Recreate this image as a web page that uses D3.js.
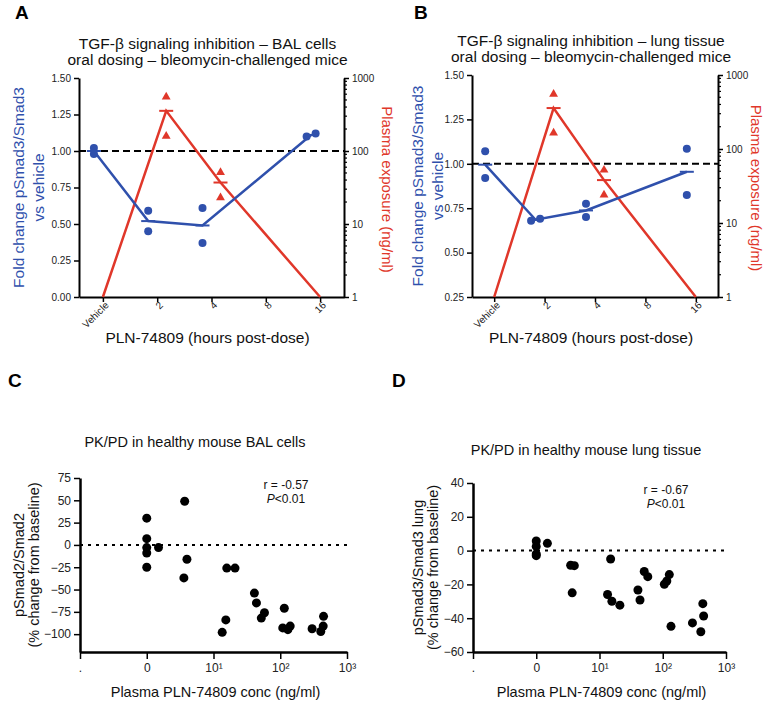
<!DOCTYPE html>
<html>
<head>
<meta charset="utf-8">
<script src="https://cdn.jsdelivr.net/npm/d3@7"></script>
<style>
body { margin: 0; background: #fff; }
text { font-family: "Liberation Sans", Arial, sans-serif; }
</style>
</head>
<body>
<svg id="fig" width="768" height="702"></svg>
<script>
// Time-course categories (panels A and B)
const timeLabels = ["Vehicle", "2", "4", "8", "16"];

// Panel A - BAL cells
const balHours = ["Vehicle", "Vehicle", "2", "2", "4", "4", "16", "16"];
const balFold = [1.02, 0.98, 0.59, 0.45, 0.61, 0.37, 1.10, 1.12];
const balPlasmaHours = ["Vehicle", "2", "2", "4", "4", "16"];
const balPlasma = [1, 550, 160, 51, 23, 1];

// Panel B - lung tissue
const lungHours = ["Vehicle", "Vehicle", "2", "2", "4", "4", "16", "16"];
const lungFold = [1.07, 0.92, 0.68, 0.69, 0.775, 0.70, 0.825, 1.085];
const lungPlasmaHours = ["Vehicle", "2", "2", "4", "4", "16"];
const lungPlasma = [1, 550, 165, 52, 24, 1];

const foldTicksA = [0, 0.25, 0.5, 0.75, 1, 1.25, 1.5];
const foldTicksB = [0.25, 0.5, 0.75, 1, 1.25, 1.5];
const plasmaTicks = [1, 10, 100, 1000];

// Panel C - PK/PD BAL cells
const concC = [1, 1, 1, 1, 1, 1.5, 3.7, 4, 3.6, 15.8, 21, 15.3, 13.5, 41, 44, 58, 52, 115, 109, 130, 141, 300, 445, 440, 405];
const pctC = [30, 7, -3, -9, -25, -3, 49, -16, -37, -26, -26, -84, -98, -54, -65, -76, -82, -71, -93, -95, -91, -94, -80, -91, -97];

// Panel D - PK/PD lung tissue
const concD = [1, 1, 1, 1, 1.5, 3.5, 4, 3.7, 15, 13.4, 15.7, 21, 40.5, 43.7, 51, 58, 106, 116, 127, 135, 295, 430, 443, 400];
const pctD = [5.7, 2.5, -2, -3, 4.3, -8.7, -8.9, -25, -5, -26, -30, -32.3, -23.3, -29.2, -12.4, -15.4, -19.9, -18, -14.2, -44.8, -42.8, -31.4, -38.7, -48];

const concTicks = [0.1, 1, 10, 100, 1000];
const concTickLabels = [".", "0", "10\u00b9", "10\u00b2", "10\u00b3"];
const pctTicksC = [75, 50, 25, 0, -25, -50, -75, -100];
const pctTicksD = [40, 20, 0, -20, -40, -60];

const blue = "#2f50ac";
const red = "#e0372a";

const svg = d3.select("#fig");

function styleAxis(g, fontSize) {
    g.select(".domain").attr("stroke", "#000").attr("stroke-width", 2);
    g.selectAll(".tick line").attr("stroke", "#000").attr("stroke-width", 1.5);
    g.selectAll(".tick text").attr("fill", "#222").style("font-size", fontSize + "px")
        .style("font-family", "'Liberation Sans', Arial, sans-serif");
}

function drawTimePanel(p) {
    const x = d3.scalePoint().domain(timeLabels).range([p.left, p.right]).padding(0.44);
    const y = d3.scaleLinear().domain(p.yDomain).range([p.bottom, p.top]);
    const yLog = d3.scaleLog().domain([1, 1000]).range([p.bottom, p.top]);

    // Axes
    const gl = svg.append("g").attr("transform", `translate(${p.left},0)`)
        .call(d3.axisLeft(y).tickValues(p.yTicks).tickFormat(d3.format(".2f")).tickSize(5).tickSizeOuter(0));
    styleAxis(gl, 10);

    const gr = svg.append("g").attr("transform", `translate(${p.right},0)`)
        .call(d3.axisRight(yLog).tickValues(plasmaTicks).tickFormat(d3.format("d")).tickSize(5).tickSizeOuter(0));
    styleAxis(gr, 10);
    const minor = [];
    [1, 10, 100].forEach(k => d3.range(2, 10).forEach(m => minor.push(k * m)));
    gr.selectAll(".minor").data(minor).enter().append("line")
        .attr("x1", 0).attr("x2", 3)
        .attr("y1", d => yLog(d)).attr("y2", d => yLog(d))
        .attr("stroke", "#000").attr("stroke-width", 1.2);

    const gb = svg.append("g").attr("transform", `translate(0,${p.bottom})`)
        .call(d3.axisBottom(x).tickSize(5).tickSizeOuter(0));
    styleAxis(gb, 10);
    gb.selectAll(".tick text")
        .attr("x", -2).attr("y", 7).attr("dy", "0.35em")
        .attr("transform", "rotate(-45)")
        .style("text-anchor", "end");

    // Dashed reference line at 1.0
    svg.append("line")
        .attr("x1", p.left).attr("x2", p.right)
        .attr("y1", y(1)).attr("y2", y(1))
        .attr("stroke", "#000").attr("stroke-width", 2).attr("stroke-dasharray", "7,4");

    // Plasma exposure (red)
    const plasmaPts = p.plasmaHours.map((h, i) => ({ h, v: p.plasma[i] }));
    const plasmaMeans = d3.rollups(plasmaPts, v => d3.mean(v, d => d.v), d => d.h)
        .sort((a, b) => timeLabels.indexOf(a[0]) - timeLabels.indexOf(b[0]));
    const redX = h => x(h) + (h === "Vehicle" || h === "16" ? 0 : 9);

    svg.append("path")
        .datum(plasmaMeans)
        .attr("fill", "none").attr("stroke", red).attr("stroke-width", 2.5)
        .attr("d", d3.line().x(d => redX(d[0])).y(d => yLog(d[1])));

    svg.selectAll(null).data(plasmaMeans.filter(d => d[1] > 1)).enter().append("line")
        .attr("x1", d => redX(d[0]) - 7).attr("x2", d => redX(d[0]) + 7)
        .attr("y1", d => yLog(d[1])).attr("y2", d => yLog(d[1]))
        .attr("stroke", red).attr("stroke-width", 2);

    svg.selectAll(null).data(plasmaPts.filter(d => d.v > 1)).enter().append("path")
        .attr("d", d3.symbol(d3.symbolTriangle).size(34))
        .attr("transform", d => `translate(${redX(d.h)},${yLog(d.v)})`)
        .attr("fill", red);

    // Fold change (blue)
    const foldPts = p.hours.map((h, i) => ({ h, v: p.fold[i] }));
    d3.groups(foldPts, d => d.h).forEach(([h, pts]) => {
        const close = pts.length === 2 && Math.abs(pts[0].v - pts[1].v) < 0.03;
        pts.forEach((d, i) => d.dx = close ? (i === 0 ? -4.5 : 4.5) : 0);
    });
    const foldMeans = d3.rollups(foldPts, v => d3.mean(v, d => d.v), d => d.h)
        .sort((a, b) => timeLabels.indexOf(a[0]) - timeLabels.indexOf(b[0]));
    const blueX = h => x(h) - 9;

    svg.append("path")
        .datum(foldMeans)
        .attr("fill", "none").attr("stroke", blue).attr("stroke-width", 2.5)
        .attr("d", d3.line().x(d => blueX(d[0])).y(d => y(d[1])));

    svg.selectAll(null).data(foldMeans).enter().append("line")
        .attr("x1", d => blueX(d[0]) - 7).attr("x2", d => blueX(d[0]) + 7)
        .attr("y1", d => y(d[1])).attr("y2", d => y(d[1]))
        .attr("stroke", blue).attr("stroke-width", 2);

    svg.selectAll(null).data(foldPts).enter().append("circle")
        .attr("cx", d => blueX(d.h) + d.dx).attr("cy", d => y(d.v))
        .attr("r", 4).attr("fill", blue);

    // Titles and labels
    const cx = (p.left + p.right) / 2 - 4;
    svg.append("text").attr("x", cx).attr("y", p.titleY).attr("text-anchor", "middle")
        .style("font-size", "15.5px").attr("fill", "#111").text(p.title1);
    svg.append("text").attr("x", cx).attr("y", p.titleY + 16).attr("text-anchor", "middle")
        .style("font-size", "15.5px").attr("fill", "#111").text(p.title2);

    svg.append("text").attr("x", cx).attr("y", 343).attr("text-anchor", "middle")
        .style("font-size", "15.5px").attr("fill", "#111").text("PLN-74809 (hours post-dose)");

    const midY = (p.top + p.bottom) / 2;
    svg.append("text").attr("transform", `translate(${p.left - p.yLab1},${midY}) rotate(-90)`)
        .attr("text-anchor", "middle").style("font-size", "15.5px").attr("fill", blue)
        .text("Fold change pSmad3/Smad3");
    svg.append("text").attr("transform", `translate(${p.left - p.yLab2},${midY}) rotate(-90)`)
        .attr("text-anchor", "middle").style("font-size", "15.5px").attr("fill", blue)
        .text("vs vehicle");
    svg.append("text").attr("transform", `translate(${p.right + p.yLabR},${midY + 2}) rotate(90)`)
        .attr("text-anchor", "middle").style("font-size", "15px").attr("fill", red)
        .text("Plasma exposure (ng/ml)");

    svg.append("text").attr("x", p.letterX).attr("y", 19)
        .style("font-size", "19px").style("font-weight", "bold").text(p.letter);
}

function drawScatter(p) {
    const x = d3.scaleLog().domain([0.1, 1000]).range([p.left, p.right]);
    const y = d3.scaleLinear().domain(p.yDomain).range([p.bottom, p.top]);

    const gl = svg.append("g").attr("transform", `translate(${p.left},0)`)
        .call(d3.axisLeft(y).tickValues(p.yTicks).tickFormat(d3.format("d")).tickSize(6).tickSizeOuter(0));
    styleAxis(gl, 12);
    gl.select(".domain").attr("stroke-width", 2.5);

    const gb = svg.append("g").attr("transform", `translate(0,${p.bottom})`)
        .call(d3.axisBottom(x).tickValues(concTicks).tickFormat((d, i) => concTickLabels[i]).tickSize(7).tickSizeOuter(0));
    styleAxis(gb, 12);
    gb.select(".domain").attr("stroke-width", 2.5);
    gb.selectAll(".tick text").attr("y", 11);

    // Dotted zero line
    svg.append("line")
        .attr("x1", p.left).attr("x2", p.right)
        .attr("y1", y(0)).attr("y2", y(0))
        .attr("stroke", "#000").attr("stroke-width", 2).attr("stroke-dasharray", "3,5");

    svg.selectAll(null).data(p.conc).enter().append("circle")
        .attr("cx", d => x(d)).attr("cy", (d, i) => y(p.pct[i]))
        .attr("r", 4.5).attr("fill", "#000");

    svg.append("text").attr("x", p.titleX).attr("y", p.titleY).attr("text-anchor", "middle")
        .style("font-size", "14.5px").attr("fill", "#111").text(p.title);

    svg.append("text").attr("x", (p.left + p.right) / 2 + 2).attr("y", 697).attr("text-anchor", "middle")
        .style("font-size", "14.5px").attr("fill", "#111").text("Plasma PLN-74809 conc (ng/ml)");

    const midY = (p.top + p.bottom) / 2;
    svg.append("text").attr("transform", `translate(${p.left - p.yLab1},${midY}) rotate(-90)`)
        .attr("text-anchor", "middle").style("font-size", "14.5px").attr("fill", "#111").text(p.yTitle);
    svg.append("text").attr("transform", `translate(${p.left - p.yLab2},${midY}) rotate(-90)`)
        .attr("text-anchor", "middle").style("font-size", "14.5px").attr("fill", "#111").text("(% change from baseline)");

    svg.append("text").attr("x", p.statX).attr("y", p.statY).attr("text-anchor", "middle")
        .style("font-size", "12px").attr("fill", "#111").text(p.r);
    const pt = svg.append("text").attr("x", p.statX).attr("y", p.statY + 14).attr("text-anchor", "middle")
        .style("font-size", "12px").attr("fill", "#111");
    pt.append("tspan").style("font-style", "italic").text("P");
    pt.append("tspan").text("<0.01");

    svg.append("text").attr("x", p.letterX).attr("y", 387)
        .style("font-size", "19px").style("font-weight", "bold").text(p.letter);
}

drawTimePanel({
    letter: "A", letterX: 15,
    left: 79, right: 344, top: 78, bottom: 297,
    yDomain: [0, 1.5], yTicks: foldTicksA,
    hours: balHours, fold: balFold, plasmaHours: balPlasmaHours, plasma: balPlasma,
    title1: "TGF-\u03b2 signaling inhibition \u2013 BAL cells",
    title2: "oral dosing \u2013 bleomycin-challenged mice",
    titleY: 49, yLab1: 55, yLab2: 35, yLabR: 38
});

drawTimePanel({
    letter: "B", letterX: 414,
    left: 472, right: 718, top: 75, bottom: 297,
    yDomain: [0.25, 1.5], yTicks: foldTicksB,
    hours: lungHours, fold: lungFold, plasmaHours: lungPlasmaHours, plasma: lungPlasma,
    title1: "TGF-\u03b2 signaling inhibition \u2013 lung tissue",
    title2: "oral dosing \u2013 bleomycin-challenged mice",
    titleY: 46, yLab1: 49, yLab2: 29, yLabR: 33
});

drawScatter({
    letter: "C", letterX: 8,
    left: 80, right: 347, top: 478, bottom: 652,
    yDomain: [-120, 75], yTicks: pctTicksC,
    conc: concC, pct: pctC,
    title: "PK/PD in healthy mouse BAL cells", titleX: 195, titleY: 447,
    yTitle: "pSmad2/Smad2", yLab1: 56, yLab2: 41,
    r: "r = -0.57", statX: 286, statY: 489
});

drawScatter({
    letter: "D", letterX: 392,
    left: 473, right: 726, top: 483, bottom: 652,
    yDomain: [-60, 40], yTicks: pctTicksD,
    conc: concD, pct: pctD,
    title: "PK/PD in healthy mouse lung tissue", titleX: 586, titleY: 455,
    yTitle: "pSmad3/Smad3 lung", yLab1: 50, yLab2: 35,
    r: "r = -0.67", statX: 666, statY: 494
});
</script>
</body>
</html>
